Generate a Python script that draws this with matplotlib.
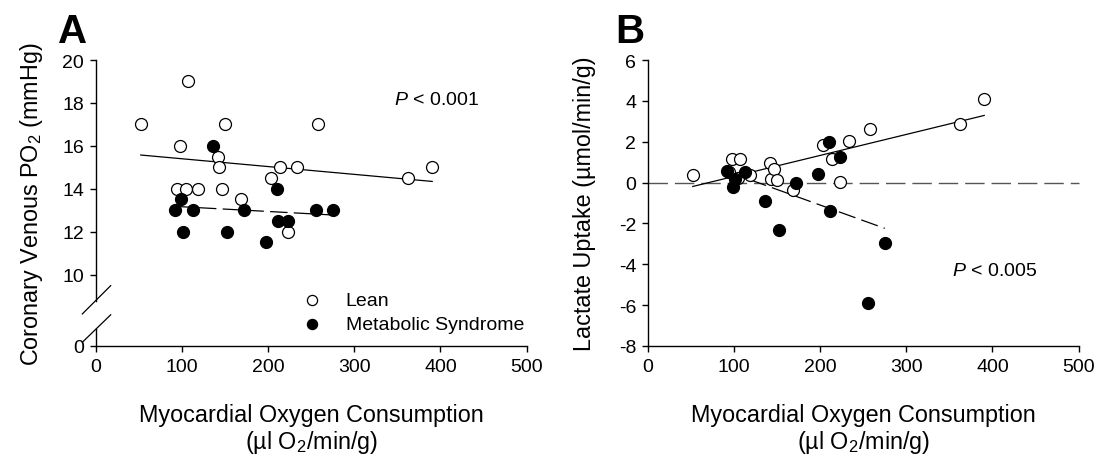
import numpy as np
import matplotlib
matplotlib.use("Agg")
import matplotlib.pyplot as plt
from matplotlib.lines import Line2D

plt.rcParams['font.family'] = ['Liberation Sans', 'DejaVu Sans']
plt.rcParams['mathtext.fontset'] = 'custom'
plt.rcParams['mathtext.rm'] = 'Liberation Sans'
plt.rcParams['mathtext.it'] = 'Liberation Sans:italic'
plt.rcParams['axes.unicode_minus'] = False

# ---------------- data ----------------
# Lean subjects
lean_mvo2 = [52, 93.5, 98, 104.5, 106.5, 118.5, 142, 142.5, 146, 149.5,
             168.5, 203.5, 214, 223.5, 233.5, 258, 362, 390.5]
lean_po2 = [17, 14, 16, 14, 19, 14, 15.5, 15, 14, 17,
            13.5, 14.5, 15, 12, 15, 17, 14.5, 15]
lean_lactate = [0.35, 0.5, 1.17, 0.2, 1.17, 0.35, 0.97, 0.16, 0.65, 0.13,
                -0.36, 1.83, 1.13, 0.03, 2.03, 2.64, 2.85, 4.09]

# Metabolic syndrome subjects
ms_mvo2 = [92, 99, 101.5, 112.5, 135.5, 152, 171.5, 197.5, 210.5, 211,
           223, 255, 275]
ms_po2 = [13, 13.5, 12, 13, 16, 12, 13, 11.5, 14, 12.5, 12.5, 13, 13]
ms_lactate = [0.57, -0.2, 0.19, 0.53, -0.91, -2.31, -0.04, 0.42, 1.99, -1.37,
              1.23, -5.91, -2.96]

x_ticks = [0, 100, 200, 300, 400, 500]
po2_ticks = [0, 10, 12, 14, 16, 18, 20]
lactate_ticks = [-8, -6, -4, -2, 0, 2, 4, 6]

x_label = "Myocardial Oxygen Consumption\n(µl O$_2$/min/g)"
po2_label = "Coronary Venous PO$_2$ (mmHg)"
lactate_label = "Lactate Uptake (µmol/min/g)"
p_texts = ["$P$ < 0.001", "$P$ < 0.005"]
group_names = ["Lean", "Metabolic Syndrome"]

# ---------------- figure ----------------
W, H = 1098, 460
fig = plt.figure(figsize=(W / 100, H / 100), dpi=100)

axA = fig.add_axes([96 / W, (H - 347) / H, 430.5 / W, 286 / H])
axB = fig.add_axes([648 / W, (H - 347) / H, 430.5 / W, 286 / H])

FS = 14
LFS = 16.8
MS = 74
EW = 0.9


def fwd(v):
    v = np.asarray(v, dtype=float)
    return np.where(v >= 10, v, 10 - (10 - v) / 3.0)


def inv(d):
    d = np.asarray(d, dtype=float)
    return np.where(d >= 10, d, 10 - (10 - d) * 3.0)


def fit_line(ax, x, y, **kw):
    x = np.asarray(x, dtype=float)
    y = np.asarray(y, dtype=float)
    k, b = np.polyfit(x, y, 1)
    xs = np.array([x.min(), x.max()])
    ax.plot(xs, k * xs + b, color='black', **kw)


def style(ax):
    for s in ['top', 'right']:
        ax.spines[s].set_visible(False)
    for s in ['left', 'bottom']:
        ax.spines[s].set_linewidth(1.0)
    ax.tick_params(direction='out', length=4.5, width=1.0, labelsize=FS,
                   colors='black', pad=4)
    ax.set_xlim(0, 500)
    ax.set_xticks(x_ticks)


# ---------- Panel A ----------
axA.set_yscale('function', functions=(fwd, inv))
axA.set_ylim(0, 20)
axA.set_yticks(po2_ticks)
axA.set_yticklabels([str(t) for t in po2_ticks])
style(axA)
axA.spines['left'].set_visible(False)
for y0, y1 in [(0, 0.061), (0.159, 1.0)]:
    axA.add_line(Line2D([0, 0], [y0, y1], transform=axA.transAxes,
                        color='black', lw=1.0, clip_on=False))
for (xa, ya, xb, yb) in [(-0.0318, 0.112, 0.0341, 0.211),
                         (-0.0318, 0.013, 0.0341, 0.109)]:
    axA.add_line(Line2D([xa, xb], [ya, yb], transform=axA.transAxes,
                        color='black', lw=0.9, clip_on=False))

fit_line(axA, lean_mvo2, lean_po2, lw=0.9, zorder=2)
fit_line(axA, ms_mvo2, ms_po2, lw=0.9, dashes=(14, 5), zorder=2)
hA1 = axA.scatter(lean_mvo2, lean_po2, s=MS, facecolor='white',
                  edgecolor='black', linewidth=EW, zorder=3, label=group_names[0])
hA2 = axA.scatter(ms_mvo2, ms_po2, s=MS, facecolor='black',
                  edgecolor='black', linewidth=EW, zorder=4, label=group_names[1])
axA.text(346, 18.15, p_texts[0], fontsize=FS, va='center', ha='left')
axA.set_ylabel(po2_label, fontsize=LFS)
axA.yaxis.set_label_coords(-0.118, 0.5)
axA.set_xlabel(x_label, fontsize=LFS, linespacing=1.1)
axA.xaxis.set_label_coords(0.5, -0.2)
leg = axA.legend(handles=[hA1, hA2], loc='upper left',
                 bbox_to_anchor=(0.474, 0.19), frameon=False, fontsize=FS,
                 markerscale=0.85, handletextpad=1.15, labelspacing=0.3,
                 borderpad=0.0, borderaxespad=0.0, handlelength=1.2)

# ---------- Panel B ----------
axB.set_ylim(-8, 6)
axB.set_yticks(lactate_ticks)
axB.set_yticklabels([str(t) for t in lactate_ticks])
style(axB)
axB.axhline(0, color='#555555', lw=1.0, dashes=(14, 5), zorder=1, clip_on=False)
fit_line(axB, lean_mvo2, lean_lactate, lw=0.9, zorder=2)
fit_line(axB, ms_mvo2, ms_lactate, lw=0.9, dashes=(14, 5), zorder=2)
axB.scatter(lean_mvo2, lean_lactate, s=MS, facecolor='white',
            edgecolor='black', linewidth=EW, zorder=3)
axB.scatter(ms_mvo2, ms_lactate, s=MS, facecolor='black',
            edgecolor='black', linewidth=EW, zorder=4)
axB.text(353, -4.3, p_texts[1], fontsize=FS, va='center', ha='left')
axB.set_ylabel(lactate_label, fontsize=LFS)
axB.yaxis.set_label_coords(-0.12, 0.5)
axB.set_xlabel(x_label, fontsize=LFS, linespacing=1.1)
axB.xaxis.set_label_coords(0.5, -0.2)

# panel letters
fig.text(58 / W, 1 - 43 / H, "A", fontsize=29, fontweight='bold', va='baseline')
fig.text(615 / W, 1 - 43 / H, "B", fontsize=29, fontweight='bold', va='baseline')

fig.savefig("out.png", dpi=100)
